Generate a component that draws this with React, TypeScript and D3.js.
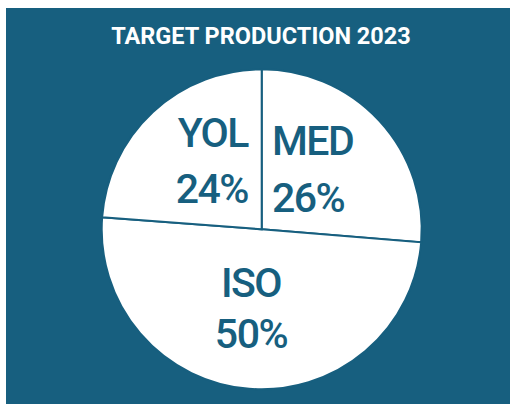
import React from "react";
import * as d3 from "d3";

const categories = ["MED", "ISO", "YOL"];
const values = [26.3, 49.9, 23.8];
const title = "TARGET PRODUCTION 2023";

const W = 512;
const H = 404;
const BG = "#175f7f";

export default function App() {
  const cx = 261.7;
  const cy = 229.3;
  const r = 160;
  const total = d3.sum(values);
  const pie = d3.pie<number>().sort(null).value((d) => d);
  const arcs = pie(values);
  const arcGen = d3.arc<d3.PieArcDatum<number>>().innerRadius(0).outerRadius(r);
  const pct = (v: number) => d3.format(".0f")((v / total) * 100) + "%";

  const labelPos: Record<string, { x: number; anchor: string; y1: number; y2: number }> = {
    MED: { x: 272, anchor: "start", y1: 155, y2: 212 },
    ISO: { x: 251, anchor: "middle", y1: 297, y2: 348 },
    YOL: { x: 248, anchor: "end", y1: 147, y2: 203 },
  };

  return (
    <svg
      width={W}
      height={H}
      style={{ position: "absolute", left: 0, top: 0, display: "block" }}
    >
      <rect x={0} y={0} width={W} height={H} fill="#ffffff" />
      <rect x={6} y={8} width={504} height={H - 8} fill={BG} />
      <text
        x={261}
        y={44}
        textAnchor="middle"
        fill="#ffffff"
        fontFamily="Roboto"
        fontWeight="bold"
        fontSize={23.5}
      >
        {title}
      </text>
      <g transform={`translate(${cx},${cy})`}>
        {arcs.map((a, i) => (
          <path key={i} d={arcGen(a) || ""} fill="#ffffff" stroke={BG} strokeWidth={2} />
        ))}
      </g>
      {arcs.map((a, i) => {
        const c = categories[i];
        const p = labelPos[c];
        return (
          <g
            key={c}
            fill={BG}
            fontFamily="Roboto"
            fontWeight={500}
            fontSize={41}
            letterSpacing={-1.5}
            textAnchor={p.anchor}
          >
            <text x={p.x} y={p.y1}>{c}</text>
            <text x={p.x} y={p.y2}>{pct(a.data)}</text>
          </g>
        );
      })}
    </svg>
  );
}
